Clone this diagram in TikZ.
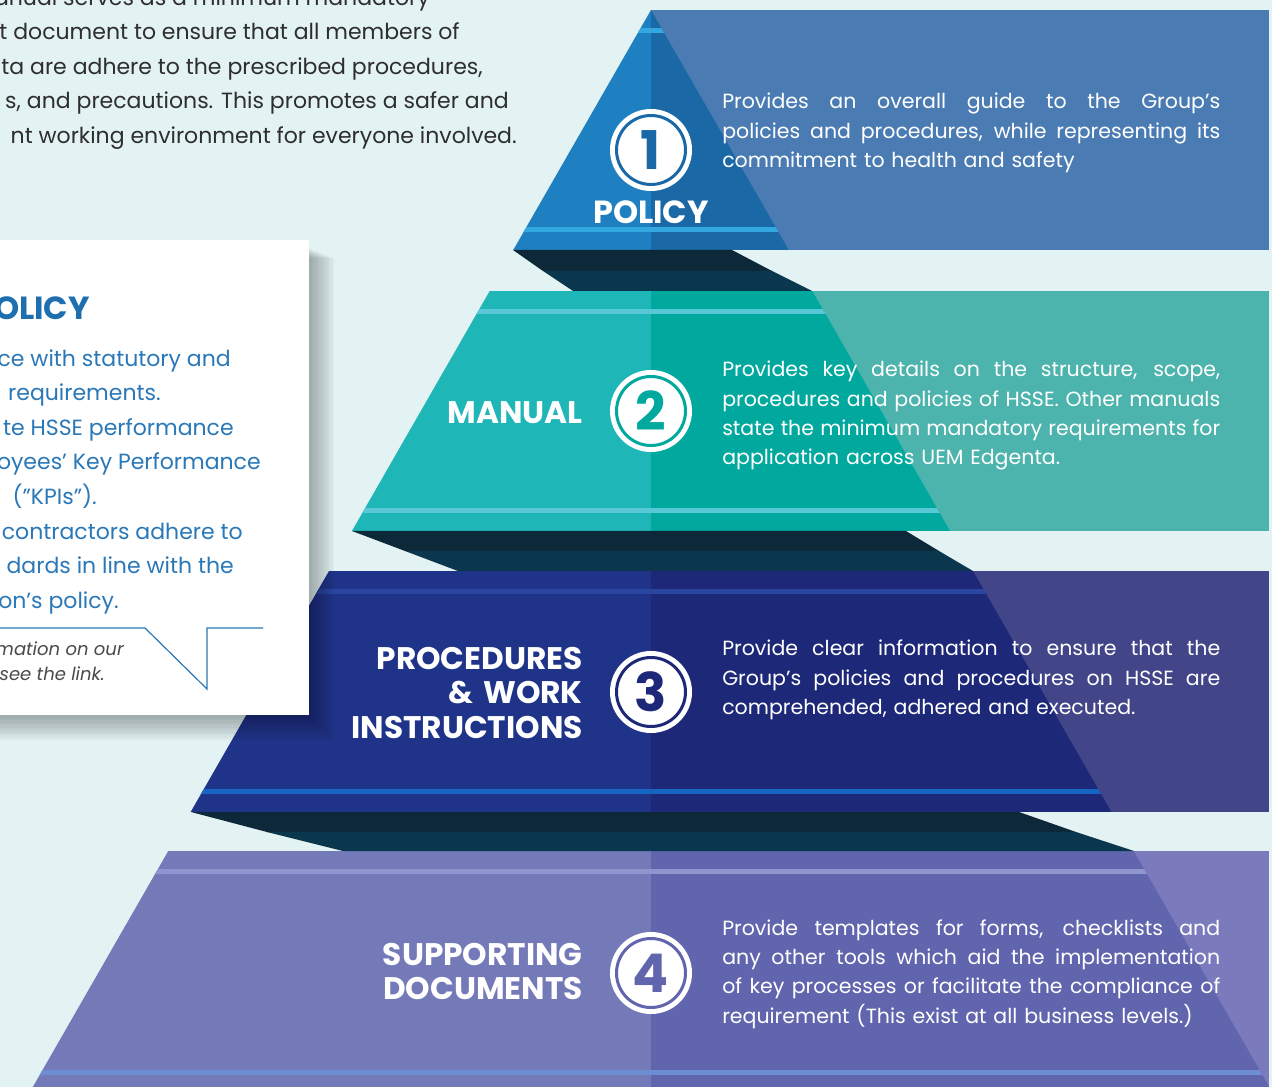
\documentclass[tikz,border=0pt]{standalone}
\usepackage{fontspec}
\setmainfont{Poppins}

% colours
\definecolor{bgcol}{HTML}{E3F2F3}
\definecolor{tOneL}{HTML}{1E80C0}
\definecolor{tOneR}{HTML}{1A69A6}
\definecolor{tOneS}{HTML}{33A8E0}
\definecolor{pOne}{HTML}{4A7CB3}
\definecolor{tTwoL}{HTML}{1FB6B8}
\definecolor{tTwoR}{HTML}{00A89E}
\definecolor{tTwoS}{HTML}{58C8D6}
\definecolor{pTwo}{HTML}{4CB4AC}
\definecolor{tThrL}{HTML}{1F3489}
\definecolor{tThrR}{HTML}{1E2879}
\definecolor{tThrSa}{HTML}{2A46A0}
\definecolor{tThrSb}{HTML}{1765C2}
\definecolor{pThr}{HTML}{424689}
\definecolor{tFouL}{HTML}{7479B8}
\definecolor{tFouR}{HTML}{6165AE}
\definecolor{tFouSa}{HTML}{8E95CF}
\definecolor{tFouSb}{HTML}{6F8DD2}
\definecolor{pFou}{HTML}{7A7ABC}
\definecolor{shadeA}{HTML}{0D2839}
\definecolor{shadeB}{HTML}{0A374D}
\definecolor{inktext}{HTML}{2E2E2E}
\definecolor{boxblue}{HTML}{2A78B8}
\definecolor{headblue}{HTML}{1D6FB0}
\definecolor{notegray}{HTML}{4A4A4A}

% one justified line of a description
\newlength\dw
\setlength\dw{373.5pt}
\newcommand\jline[1]{\makebox[\dw][s]{\spaceskip=0.26em plus 1fil\relax #1}}

\tikzset{
  desc/.style={text=white, inner sep=0pt, text width=376pt, align=left,
    font=\fontsize{15.4}{22}\selectfont},
  lab/.style={text=white, inner sep=0pt, font=\bfseries\fontsize{23.4}{25.9}\selectfont},
  intro/.style={text=inktext, inner sep=0pt, anchor=base east,
    font=\fontsize{16.5}{20}\selectfont},
  boxline/.style={text=boxblue, inner sep=0pt, anchor=base east,
    font=\fontsize{16.5}{20}\selectfont},
  note/.style={text=notegray, inner sep=0pt, anchor=base east,
    font=\itshape\fontsize{13.5}{16}\selectfont},
  numc/.style={circle, inner sep=0pt, minimum size=51.75pt, fill=white,
    draw=#1, line width=2.25pt, preaction={draw=white, line width=9.75pt},
    text=#1, font=\bfseries\fontsize{40}{40}\selectfont}
}

\begin{document}
\begin{tikzpicture}[x=0.75pt,y=-0.75pt]
    \useasboundingbox (0,0) rectangle (1272,1087);
    \clip (0,0) rectangle (1272,1087);
    \fill[bgcol] (0,0) rectangle (1272,1087);

    % Panels behind the pyramid
    \fill[pOne] (651,10) rectangle (1269,250);
    \fill[pTwo] (651,291) rectangle (1269,531);
    \fill[pThr] (651,571) rectangle (1269,812);
    \fill[pFou] (651,851) rectangle (1269,1087);

    % Pyramid tiers
    \foreach \yt/\yb/\cl/\cr/\cst/\csb in {10/250/tOneL/tOneR/tOneS/tOneS,
        291/531/tTwoL/tTwoR/tTwoS/tTwoS, 571/812/tThrL/tThrR/tThrSa/tThrSb,
        851/1093/tFouL/tFouR/tFouSa/tFouSb}{
      \pgfmathsetmacro\xlt{651-0.574*(\yt-10)}
      \pgfmathsetmacro\xrt{651+0.574*(\yt-10)}
      \pgfmathsetmacro\xlb{651-0.574*(\yb-10)}
      \pgfmathsetmacro\xrb{651+0.574*(\yb-10)}
      \begin{scope}
        \clip (\xlt,\yt) -- (\xrt,\yt) -- (\xrb,\yb) -- (\xlb,\yb) -- cycle;
        \fill[\cl] (0,\yt) rectangle (651,\yb);
        \fill[\cr] (651,\yt) rectangle (1272,\yb);
        \fill[\cst] (0,\yt+18) rectangle (1272,\yt+23);
        \fill[\csb] (0,\yb-23) rectangle (1272,\yb-18);
      \end{scope}
    }

    % Shadows between tiers
    \fill[shadeA] (513,250) -- (732,250) -- (772,271) -- (543,271) -- cycle;
    \fill[shadeB] (543,271) -- (772,271) -- (812,291) -- (573,291) -- cycle;
    \fill[shadeA] (352,531) -- (906,531) -- (939,551) -- (405,551) -- cycle;
    \fill[shadeB] (405,551) -- (939,551) -- (973,571) -- (458,571) -- cycle;
    \fill[shadeA] (191,812) -- (1019,812) -- (1076,832) -- (267,832) -- cycle;
    \fill[shadeB] (267,832) -- (1076,832) -- (1134,851) -- (343,851) -- cycle;

    % Number badges
    \node[numc=tOneR] (n1) at (651,150) {1};
    \node[numc=tTwoR] (n2) at (651,411) {2};
    \node[numc=tThrR] (n3) at (651,692) {3};
    \node[numc=tFouR] (n4) at (651,973) {4};

    % Tier titles
    \node[lab, anchor=base, font=\bfseries\fontsize{24}{26}\selectfont] (lPol) at (651,224) {POLICY};
    \node[lab, anchor=base east] (lMan) at (583,424) {MANUAL};
    \node[lab, text width=260pt, align=right, anchor=base east] (lProc) at (583,669)
      {PROCEDURES\\ \& WORK\\ INSTRUCTIONS};
    \node[lab, text width=260pt, align=right, anchor=base east] (lSup) at (583,965)
      {SUPPORTING\\ DOCUMENTS};

    % Descriptions
    \node[desc, anchor=base west] (dPol) at (722,109)
      {\jline{Provides an overall guide to the Group’s}\\
       \jline{policies and procedures, while representing its}\\
       commitment to health and safety};
    \node[desc, anchor=base west] (dMan) at (722,377)
      {\jline{Provides key details on the structure, scope,}\\
       \jline{procedures and policies of HSSE. Other manuals}\\
       \jline{state the minimum mandatory requirements for}\\
       application across UEM Edgenta.};
    \node[desc, anchor=base west] (dProc) at (722,656)
      {\jline{Provide clear information to ensure that the}\\
       \jline{Group’s policies and procedures on HSSE are}\\
       comprehended, adhered and executed.};
    \node[desc, anchor=base west] (dSup) at (722,935)
      {\jline{Provide templates for forms, checklists and}\\
       \jline{any other tools which aid the implementation}\\
       \jline{of key processes or facilitate the compliance of}\\
       requirement (This exist at all business levels.)};

    % Intro text, cut at the left edge
    \node[intro] (i1) at (430,6) {anual serves as a minimum mandatory};
    \node[intro] (i2) at (460,40) {t document to ensure that all members of};
    \node[intro] (i3) at (483,75) {ta are adhere to the prescribed procedures,};
    \node[intro] (i4) at (509,109) {s, and precautions. This promotes a safer and};
    \node[intro] (i5) at (517,144) {nt working environment for everyone involved.};

    % Policy box with its shadow
    \foreach \i in {1,...,10}
      \fill[black, opacity=0.03] (-20,248+\i) rectangle (309+2.5*\i,715+2.5*\i);
    \fill[white] (-20,240) rectangle (309,715);

    \node[text=headblue, inner sep=0pt, anchor=base east,
      font=\bfseries\fontsize{24}{25}\selectfont] (bHead) at (90,320) {OLICY};
    \node[boxline] (b1) at (231,367) {ce with statutory and};
    \node[boxline] (b2) at (161,401) {requirements.};
    \node[boxline] (b3) at (234,436) {te HSSE performance};
    \node[boxline] (b4) at (261,470) {oyees’ Key Performance};
    \node[boxline] (b5) at (97,505) {(\char34 KPIs\char34).};
    \node[boxline] (b6) at (243,540) {contractors adhere to};
    \node[boxline] (b7) at (234,574) {dards in line with the};
    \node[boxline] (b8) at (119,609) {on’s policy.};

    % Callout
    \draw[boxblue, line width=0.9pt] (-5,628) -- (145,628) -- (207,689) -- (207,628) -- (263,628);
    \node[note] (m1) at (124,656) {mation on our};
    \node[note] (m2) at (105,680) {see the link.};
\end{tikzpicture}
\end{document}
